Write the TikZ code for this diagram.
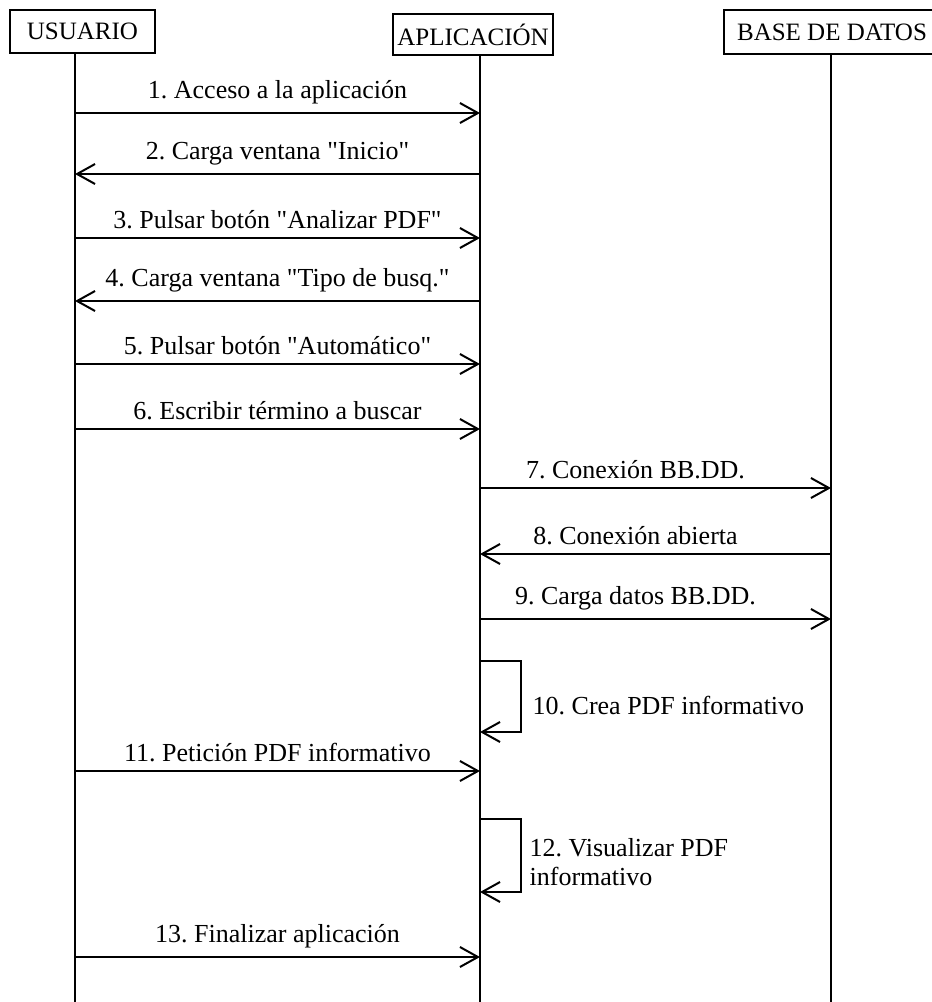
\documentclass[tikz,border=0pt]{standalone}
\usepackage{fontspec}
\setmainfont{Liberation Serif}[Ligatures=TeXOff]
\usetikzlibrary{arrows.meta}

\begin{document}
\begin{tikzpicture}[x=.5pt,y=-.5pt,line width=1pt,
  actor/.style={draw,inner sep=0pt,font=\fontsize{12.5}{14.5}\selectfont},
  msg/.style={-{Straight Barb[length=9pt,width=10pt]}},
  lbl/.style={font=\fontsize{13}{14.5}\selectfont\frenchspacing}]

\useasboundingbox (0,0) rectangle (932,1002);

\node[actor,minimum width=72.5pt,minimum height=21.5pt] (usr) at (82.5,31.5){USUARIO};
\node[actor,minimum width=80pt,minimum height=20.5pt] (app) at (473,34.5){APLICACIÓN};
\node[actor,minimum width=108pt,minimum height=22pt] (bd) at (832,32){BASE DE DATOS};

\coordinate (uL) at (75,0);
\coordinate (aL) at (480,0);
\coordinate (bL) at (831,0);

\draw (uL |- usr.south) -- (uL |- 0,1002);
\draw (aL |- app.south) -- (aL |- 0,1002);
\draw (bL |- bd.south) -- (bL |- 0,1002);

\draw[msg] (uL |- 0,113) -- node[lbl,above=.5pt]{1. Acceso a la aplicación} (aL |- 0,113);
\draw[msg] (aL |- 0,174) -- node[lbl,above=.5pt]{2. Carga ventana "Inicio"} (uL |- 0,174);
\draw[msg] (uL |- 0,238) -- node[lbl,above=.5pt]{3. Pulsar botón "Analizar PDF"} (aL |- 0,238);
\draw[msg] (aL |- 0,301) -- node[lbl,above=.5pt]{4. Carga ventana "Tipo de busq."} (uL |- 0,301);
\draw[msg] (uL |- 0,364) -- node[lbl,above=.5pt]{5. Pulsar botón "Automático"} (aL |- 0,364);
\draw[msg] (uL |- 0,429) -- node[lbl,above=.5pt]{6. Escribir término a buscar} (aL |- 0,429);

\draw[msg] (aL |- 0,488) -- node[lbl,above=.5pt,xshift=-10]{7. Conexión BB.DD.} (bL |- 0,488);
\draw[msg] (bL |- 0,554) -- node[lbl,above=.5pt,xshift=-10]{8. Conexión abierta} (aL |- 0,554);
\draw[msg] (aL |- 0,619) -- node[lbl,above=.5pt,xshift=-10]{9. Carga datos BB.DD.} (bL |- 0,619);

\draw[msg] (aL |- 0,661) -- ++(41,0) -- ++(0,71) node[lbl,pos=.63,right=2pt]{10. Crea PDF informativo} -- (aL |- 0,732);
\draw[msg] (uL |- 0,771) -- node[lbl,above=.5pt]{11. Petición PDF informativo} (aL |- 0,771);
\draw[msg] (aL |- 0,819) -- ++(41,0) -- ++(0,73) node[lbl,pos=.59,right=.5pt,align=left]{12. Visualizar PDF\\informativo} -- (aL |- 0,892);
\draw[msg] (uL |- 0,957) -- node[lbl,above=.5pt]{13. Finalizar aplicación} (aL |- 0,957);

\end{tikzpicture}
\end{document}
